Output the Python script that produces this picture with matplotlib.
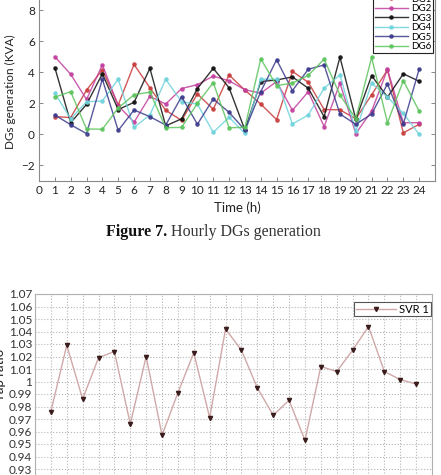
import matplotlib
matplotlib.use('Agg')
import matplotlib.pyplot as plt
from matplotlib.ticker import FuncFormatter, MultipleLocator

# ---------------- data ----------------
hours = list(range(1, 25))
dg_names = ['DG1', 'DG2', 'DG3', 'DG4', 'DG5', 'DG6']
dg1 = [1.15, 1.08, 2.85, 4.15, 1.90, 4.50, 3.00, 1.55, 0.90, 2.60, 1.62, 3.82,
       2.85, 1.95, 0.95, 4.05, 3.35, 1.60, 1.58, 1.00, 2.55, 4.15, 0.10, 0.65]
dg2 = [5.00, 3.87, 2.25, 4.48, 1.85, 0.78, 2.45, 1.95, 2.95, 3.20, 3.75, 3.45,
       2.87, 2.65, 3.40, 1.55, 2.75, 0.50, 3.30, 0.05, 1.50, 4.18, 0.75, 0.75]
dg3 = [4.30, 0.75, 1.93, 3.90, 1.60, 2.06, 4.25, 0.55, 1.00, 2.95, 4.25, 3.00,
       0.28, 3.40, 3.50, 3.70, 2.97, 1.14, 4.97, 0.97, 3.78, 2.40, 3.90, 3.42]
dg4 = [2.65, 1.00, 2.10, 2.15, 3.55, 0.45, 1.25, 3.55, 2.10, 1.95, 0.13, 1.10,
       0.06, 3.55, 3.55, 0.67, 1.25, 2.97, 3.83, 0.20, 3.30, 2.40, 1.35, 0.00]
dg5 = [1.25, 0.62, 0.05, 3.55, 0.25, 1.57, 1.14, 0.60, 2.43, 0.65, 2.28, 1.42,
       0.28, 2.75, 4.80, 2.82, 4.19, 4.47, 1.31, 0.65, 1.31, 3.25, 0.67, 4.20]
dg6 = [2.40, 2.75, 0.35, 0.33, 1.70, 2.55, 2.72, 0.43, 0.45, 2.00, 3.33, 0.43,
       0.45, 4.86, 3.14, 3.30, 3.80, 4.84, 2.54, 1.00, 4.95, 0.75, 3.46, 1.50]
dg_series = [dg1, dg2, dg3, dg4, dg5, dg6]
dg_colors = ['#c83a3a', '#c23f9e', '#111111', '#6fd3dc', '#3b3b8c', '#5cc45c']

top_xticks = list(range(0, 25))
top_yticks = [-2, 0, 2, 4, 6, 8]

tap_ratio = [0.976, 1.029, 0.986, 1.019, 1.024, 0.966, 1.020, 0.957, 0.991, 1.023,
             0.971, 1.042, 1.025, 0.995, 0.973, 0.985, 0.953, 1.012, 1.008, 1.025,
             1.044, 1.008, 1.0015, 0.998]
tap_yticks = [0.92, 0.93, 0.94, 0.95, 0.96, 0.97, 0.98, 0.99, 1.00, 1.01,
              1.02, 1.03, 1.04, 1.05, 1.06, 1.07]

caption_bold = 'Figure 7.'
caption_text = ' Hourly DGs generation'

# ---------------- figure ----------------
plt.rcParams['font.family'] = ['Lato', 'DejaVu Sans']
W, H = 441, 475
fig = plt.figure(figsize=(W / 100, H / 100), dpi=100)


def fx(px):
    return px / W


def fy(py):
    return 1 - py / H


# ---- top chart: DG generation ----
top_ax_top, top_ax_bot = -21, 181
ax1 = fig.add_axes([fx(39), fy(top_ax_bot), fx(435) - fx(39),
                    fy(top_ax_top) - fy(top_ax_bot)])
for vals, name, col in zip(dg_series, dg_names, dg_colors):
    ax1.plot(hours, vals, color=col, lw=1.0, marker='o', ms=2.3, alpha=0.85,
             label=name)
ax1.set_xlim(0, 25)
ax1.set_ylim(-3, 10)
ax1.set_xticks(top_xticks)
ax1.set_yticks(top_yticks)
ax1.tick_params(direction='in', length=3, width=0.7, color='#888888',
                labelsize=8.5, labelcolor='#222222', top=True, right=True, pad=3)
for s in ax1.spines.values():
    s.set_color('#8a8a8a')
    s.set_linewidth(0.8)
ax1.set_xlabel('Time (h)', fontsize=9.5, color='#222222', labelpad=4)
ax1.set_ylabel('DGs generation (KVA)', fontsize=8.5, color='#222222', labelpad=4)
ax1.yaxis.label.set_position(
    (0, (fy(92) - fy(top_ax_bot)) / (fy(top_ax_top) - fy(top_ax_bot))))
leg1 = ax1.legend(loc='lower right', bbox_to_anchor=(fx(433), fy(53)),
                  bbox_transform=fig.transFigure, borderaxespad=0, fontsize=7,
                  handlelength=3.4, handletextpad=0.3, labelspacing=0.05,
                  borderpad=0.2, fancybox=False, framealpha=1, edgecolor='#222222')
leg1.get_frame().set_linewidth(0.8)

# ---- caption ----
fig.canvas.draw()
r = fig.canvas.get_renderer()
t1 = fig.text(fx(106), fy(232), caption_bold, fontsize=11.5, fontweight='bold',
              family='Liberation Serif', ha='left', va='center', color='#111111')
bb = t1.get_window_extent(renderer=r)
fig.text(bb.x1 / W, fy(232), caption_text, fontsize=11.5,
         family='Liberation Serif', ha='left', va='center', color='#333333')

# ---- bottom chart: tap ratio ----
y_top, y_bot = 1.07, 0.90
px_per = 12.5 / 0.01
bot_px = 294 + (y_top - y_bot) * px_per
ax2 = fig.add_axes([fx(35), fy(bot_px), fx(432) - fx(35), fy(294) - fy(bot_px)])
ax2.plot(hours, tap_ratio, color='#d0a8a8', lw=1.0, marker='v', ms=3.0,
         mfc='#3a1c1c', mec='#3a1c1c', label='SVR 1')
ax2.set_xlim(0, 25)
ax2.set_ylim(y_bot, y_top)
ax2.xaxis.set_major_locator(MultipleLocator(1))
ax2.set_yticks(tap_yticks)
ax2.yaxis.set_major_formatter(
    FuncFormatter(lambda v, p: f'{v:.2f}'.rstrip('0').rstrip('.')))
ax2.grid(True, linestyle=':', color='#b5b5b5', linewidth=0.8)
ax2.tick_params(length=0, labelsize=8.5, labelcolor='#333333', pad=2)
ax2.tick_params(axis='x', labelbottom=False)
for s in ax2.spines.values():
    s.set_color('#b0b0b0')
    s.set_linewidth(0.8)
leg2 = ax2.legend(loc='upper right', bbox_to_anchor=(fx(431), fy(302)),
                  bbox_transform=fig.transFigure, borderaxespad=0, fontsize=8,
                  handlelength=3.6, handletextpad=0.3, borderpad=0.15,
                  fancybox=False, framealpha=1, edgecolor='#555555')
leg2.get_frame().set_linewidth(0.8)
fig.text(fx(6), fy(375), 'Tap ratio', rotation=90, ha='right', va='center',
         fontsize=9.5, color='#222222')

fig.savefig('out.png', dpi=100)
